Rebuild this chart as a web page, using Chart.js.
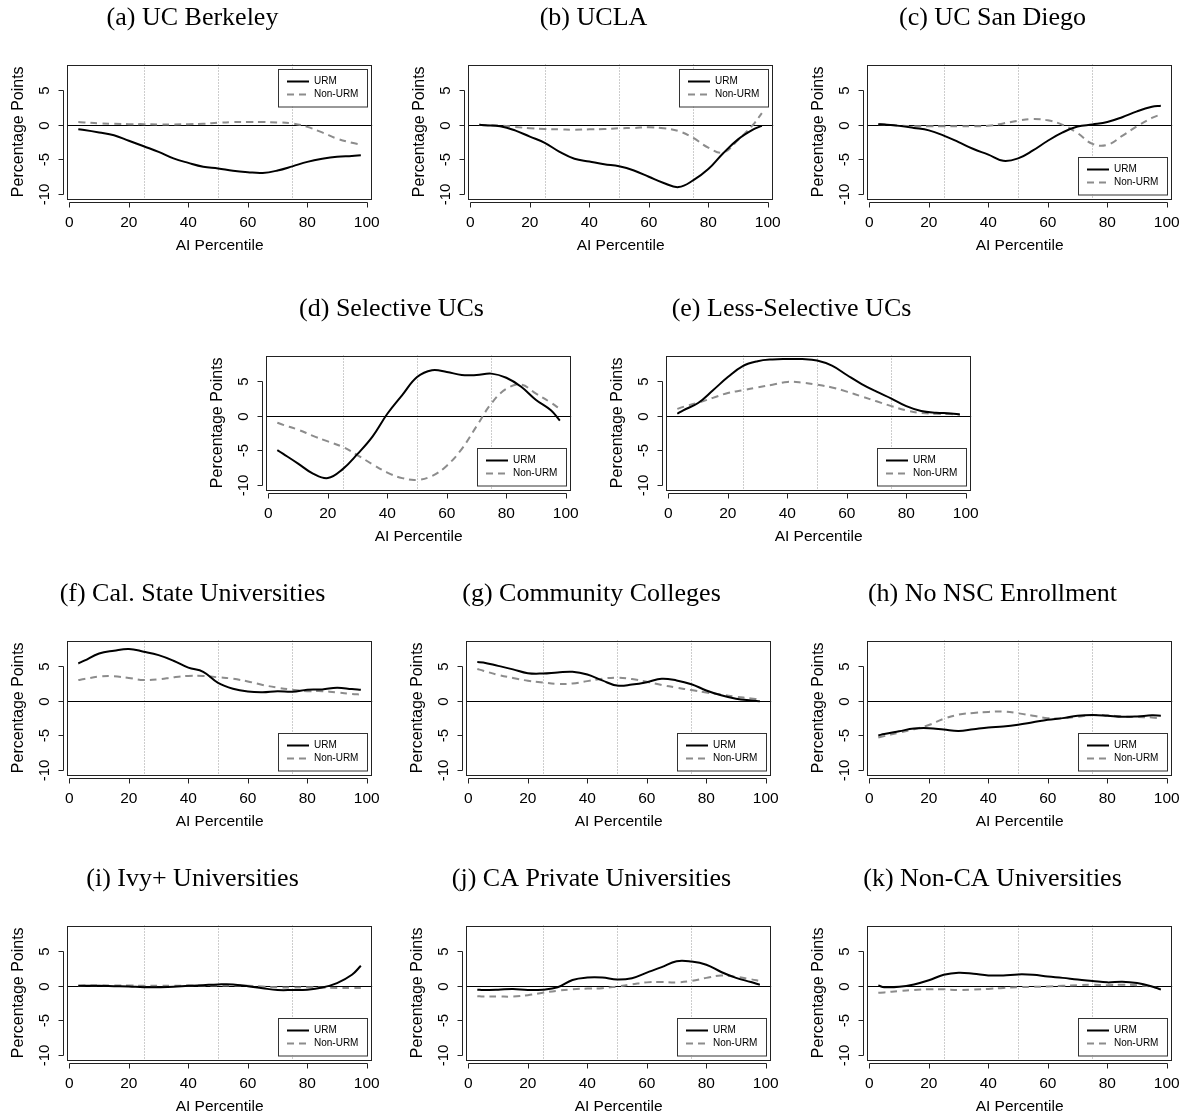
<!DOCTYPE html>
<html>
<head>
<meta charset="utf-8">
<script src="https://cdn.jsdelivr.net/npm/chart.js@4.4.1/dist/chart.umd.min.js"></script>
<style>
  html, body { margin: 0; padding: 0; background: #fff; overflow: hidden; }
  #page { position: relative; width: 1183px; height: 1118px; overflow: hidden; }
  #page canvas { position: absolute; }
</style>
</head>
<body>
<div id="page"></div>
<script>
// ── Shared axis values ──
const pctGrid = [3, 5, 10, 15, 20, 25, 30, 35, 40, 45, 50, 55, 60, 65, 70, 75, 80, 85, 90, 95, 98];
const xTickVals = [0, 20, 40, 60, 80, 100];
const yTickVals = [-10, -5, 0, 5];
const quartileLines = [25, 50, 75];
const seriesLabels = ['URM', 'Non-URM'];

// ── Series (percentage points, one value per pctGrid entry) ──
const berkeleyURM    = [-0.65, -0.75, -1.1, -1.5, -2.3, -3.1, -3.9, -4.85, -5.5, -6.05, -6.3, -6.65, -6.85, -6.95, -6.6, -6.0, -5.35, -4.9, -4.6, -4.5, -4.4];
const berkeleyNonURM = [0.4, 0.35, 0.2, 0.15, 0.1, 0.1, 0.05, 0.05, 0.1, 0.15, 0.3, 0.4, 0.4, 0.4, 0.35, 0.2, -0.3, -1.1, -2.0, -2.6, -2.85];
const uclaURM        = [0, -0.05, -0.2, -0.8, -1.7, -2.6, -3.9, -4.9, -5.3, -5.7, -6.0, -6.6, -7.5, -8.4, -9.0, -8.0, -6.4, -4.1, -2.1, -0.7, -0.15];
const uclaNonURM     = [0, -0.05, -0.1, -0.3, -0.5, -0.6, -0.65, -0.7, -0.65, -0.6, -0.5, -0.45, -0.35, -0.5, -0.9, -1.9, -3.3, -4.0, -2.2, 0.0, 1.7];
const sanDiegoURM    = [0.1, 0.05, -0.15, -0.45, -0.8, -1.55, -2.5, -3.5, -4.3, -5.2, -4.85, -3.7, -2.3, -1.1, -0.25, 0.05, 0.4, 1.1, 1.95, 2.6, 2.75];
const sanDiegoNonURM = [0.1, 0.05, -0.1, -0.2, -0.2, -0.2, -0.2, -0.2, -0.15, 0.2, 0.6, 0.85, 0.65, 0.0, -1.2, -2.75, -2.9, -1.6, -0.2, 1.0, 1.5];
const selectiveURM   = [-4.95, -5.5, -6.9, -8.35, -9.0, -7.7, -5.5, -3.0, 0.3, 3.0, 5.6, 6.6, 6.35, 5.9, 5.9, 6.1, 5.5, 4.2, 2.3, 0.8, -0.7];
const selectiveNonURM = [-1.0, -1.3, -2.0, -2.9, -3.7, -4.5, -5.7, -7.0, -8.2, -9.0, -9.25, -8.7, -7.2, -4.8, -1.5, 1.8, 3.9, 4.5, 3.2, 1.9, 1.0];
const lessSelURM     = [0.3, 0.8, 1.85, 3.7, 5.6, 7.2, 7.9, 8.15, 8.2, 8.2, 8.0, 7.25, 5.9, 4.6, 3.5, 2.5, 1.4, 0.7, 0.45, 0.35, 0.2];
const lessSelNonURM  = [1.0, 1.3, 1.9, 2.6, 3.3, 3.7, 4.1, 4.5, 4.9, 4.8, 4.5, 4.1, 3.5, 2.8, 2.1, 1.4, 0.8, 0.4, 0.3, 0.25, 0.2];
const calStateURM    = [5.4, 5.8, 6.85, 7.25, 7.5, 7.1, 6.6, 5.8, 4.8, 4.2, 2.6, 1.75, 1.35, 1.25, 1.4, 1.3, 1.6, 1.65, 1.9, 1.7, 1.6];
const calStateNonURM = [3.0, 3.15, 3.5, 3.55, 3.3, 3.0, 3.1, 3.4, 3.6, 3.6, 3.4, 3.2, 2.8, 2.3, 1.9, 1.6, 1.4, 1.4, 1.2, 1.0, 0.9];
const communityURM   = [5.6, 5.55, 5.05, 4.55, 4.0, 3.95, 4.1, 4.2, 3.8, 2.95, 2.2, 2.35, 2.7, 3.2, 2.95, 2.4, 1.5, 0.8, 0.3, 0.05, -0.05];
const communityNonURM = [4.6, 4.35, 3.75, 3.3, 2.9, 2.65, 2.45, 2.5, 2.85, 3.2, 3.35, 3.15, 2.75, 2.3, 1.9, 1.55, 1.2, 0.9, 0.6, 0.35, 0.2];
const noNscURM       = [-5.0, -4.8, -4.4, -4.0, -3.95, -4.15, -4.35, -4.1, -3.85, -3.7, -3.45, -3.1, -2.75, -2.5, -2.15, -2.05, -2.15, -2.3, -2.25, -2.1, -2.15];
const noNscNonURM    = [-5.3, -5.1, -4.6, -4.1, -3.5, -2.6, -2.0, -1.75, -1.6, -1.55, -1.8, -2.15, -2.5, -2.5, -2.3, -2.05, -2.1, -2.25, -2.35, -2.4, -2.6];
const ivyURM         = [0, 0, 0, -0.05, -0.1, -0.2, -0.2, -0.15, 0, 0.1, 0.2, 0.2, -0.05, -0.35, -0.6, -0.6, -0.55, -0.25, 0.4, 1.6, 2.9];
const ivyNonURM      = [0, 0.05, 0.05, 0.05, 0.05, 0, 0, 0, 0.05, 0.05, 0.05, 0.05, 0, -0.1, -0.2, -0.25, -0.2, -0.25, -0.3, -0.3, -0.3];
const caPrivateURM   = [-0.55, -0.6, -0.55, -0.45, -0.6, -0.55, -0.2, 0.85, 1.2, 1.2, 0.9, 1.1, 1.9, 2.7, 3.55, 3.5, 3.05, 2.0, 1.15, 0.55, 0.15];
const caPrivateNonURM = [-1.5, -1.55, -1.55, -1.55, -1.35, -1.0, -0.7, -0.5, -0.4, -0.35, -0.1, 0.2, 0.5, 0.55, 0.5, 0.7, 1.15, 1.5, 1.3, 0.95, 0.7];
const nonCaURM       = [0.05, -0.2, -0.15, 0.2, 0.8, 1.6, 1.9, 1.75, 1.5, 1.5, 1.65, 1.6, 1.35, 1.15, 0.9, 0.7, 0.5, 0.6, 0.4, -0.1, -0.55];
const nonCaNonURM    = [-1.0, -0.95, -0.75, -0.6, -0.5, -0.5, -0.6, -0.55, -0.45, -0.3, -0.2, -0.15, -0.1, 0.0, 0.1, 0.15, 0.1, 0.15, 0.1, -0.15, -0.45];

// ── Panel layout (canvas origin on the page, legend corner) ──
const panels = [
    { title: '(a) UC Berkeley',          urm: berkeleyURM,  non: berkeleyNonURM,  left: 0,   top: 0,   legend: 'top' },
    { title: '(b) UCLA',                 urm: uclaURM,      non: uclaNonURM,      left: 401, top: 0,   legend: 'top' },
    { title: '(c) UC San Diego',         urm: sanDiegoURM,  non: sanDiegoNonURM,  left: 800, top: 0,   legend: 'bottom' },
    { title: '(d) Selective UCs',        urm: selectiveURM, non: selectiveNonURM, left: 199, top: 291, legend: 'bottom' },
    { title: '(e) Less-Selective UCs',   urm: lessSelURM,   non: lessSelNonURM,   left: 599, top: 291, legend: 'bottom' },
    { title: '(f) Cal. State Universities', urm: calStateURM, non: calStateNonURM, left: 0,  top: 576, legend: 'bottom' },
    { title: '(g) Community Colleges',   urm: communityURM, non: communityNonURM, left: 399, top: 576, legend: 'bottom' },
    { title: '(h) No NSC Enrollment',    urm: noNscURM,     non: noNscNonURM,     left: 800, top: 576, legend: 'bottom' },
    { title: '(i) Ivy+ Universities',    urm: ivyURM,       non: ivyNonURM,       left: 0,   top: 861, legend: 'bottom' },
    { title: '(j) CA Private Universities', urm: caPrivateURM, non: caPrivateNonURM, left: 399, top: 861, legend: 'bottom' },
    { title: '(k) Non-CA Universities',  urm: nonCaURM,     non: nonCaNonURM,     left: 800, top: 861, legend: 'bottom' }
];

const X_MIN = -0.8, X_MAX = 101.8;
const Y_MIN = -10.72, Y_MAX = 8.72;
const SANS = "'Liberation Sans', Arial, sans-serif";
const SERIF = "'Liberation Serif', 'Times New Roman', serif";
const CANVAS_W = 394, CANVAS_H = 257;

// ── R-style frame: dotted quartile guides, zero line, box, offset axes, legend ──
const rFrame = {
    id: 'rFrame',
    beforeDatasetsDraw(chart) {
        const { ctx, chartArea: a, scales: { x, y } } = chart;
        ctx.save();
        ctx.lineWidth = 1;
        ctx.strokeStyle = '#9a9a9a';
        ctx.setLineDash([1, 2]);
        quartileLines.forEach(v => {
            const px = Math.round(x.getPixelForValue(v)) + 0.5;
            ctx.beginPath(); ctx.moveTo(px, a.top); ctx.lineTo(px, a.bottom); ctx.stroke();
        });
        ctx.setLineDash([]);
        ctx.strokeStyle = '#000';
        const p0 = Math.round(y.getPixelForValue(0)) + 0.5;
        ctx.beginPath(); ctx.moveTo(a.left, p0); ctx.lineTo(a.right, p0); ctx.stroke();
        ctx.restore();
    },
    afterDatasetsDraw(chart, args, opts) {
        const { ctx, chartArea: a, scales: { x, y } } = chart;
        ctx.save();
        ctx.lineWidth = 1;
        ctx.strokeStyle = '#222';
        ctx.strokeRect(Math.round(a.left) + 0.5, Math.round(a.top) + 0.5,
                       Math.round(a.right - a.left) - 1, Math.round(a.bottom - a.top) - 1);

        // x axis below the box
        const ax = Math.round(a.bottom) + 3.5;
        const xs = x.ticks.map(t => Math.round(x.getPixelForValue(t.value)) + 0.5);
        ctx.beginPath();
        ctx.moveTo(xs[0], ax); ctx.lineTo(xs[xs.length - 1], ax);
        xs.forEach(px => { ctx.moveTo(px, ax); ctx.lineTo(px, ax + 5); });
        ctx.stroke();

        // y axis left of the box, labels rotated like R
        const ay = Math.round(a.left) - 3.5;
        const ys = y.ticks.map(t => Math.round(y.getPixelForValue(t.value)) + 0.5);
        ctx.beginPath();
        ctx.moveTo(ay, ys[0]); ctx.lineTo(ay, ys[ys.length - 1]);
        ys.forEach(py => { ctx.moveTo(ay, py); ctx.lineTo(ay - 5, py); });
        ctx.stroke();
        ctx.fillStyle = '#000';
        ctx.font = `15px ${SANS}`;
        ctx.textAlign = 'center';
        ctx.textBaseline = 'middle';
        y.ticks.forEach((t, i) => {
            ctx.save();
            ctx.translate(a.left - 22, ys[i]);
            ctx.rotate(-Math.PI / 2);
            ctx.fillText(String(t.value), 0, 0);
            ctx.restore();
        });

        // legend box inside the plot
        const lw = 89, lh = 37.5;
        const lx = Math.round(a.right - 5.5 - lw);
        const ly = Math.round(opts.corner === 'top' ? a.top + 4.5 : a.bottom - 4.5 - lh);
        ctx.fillStyle = '#fff';
        ctx.fillRect(lx, ly, lw, lh);
        ctx.strokeStyle = '#333';
        ctx.strokeRect(lx + 0.5, ly + 0.5, lw, lh);
        ctx.font = `10px ${SANS}`;
        ctx.textAlign = 'left';
        chart.data.datasets.forEach((ds, i) => {
            const yy = ly + 12.5 + i * 13;
            ctx.strokeStyle = ds.borderColor;
            ctx.lineWidth = ds.borderWidth;
            ctx.setLineDash(ds.borderDash || []);
            ctx.beginPath(); ctx.moveTo(lx + 9, yy); ctx.lineTo(lx + 31, yy); ctx.stroke();
            ctx.setLineDash([]);
            ctx.fillStyle = '#000';
            ctx.fillText(ds.label, lx + 36, yy);
        });
        ctx.restore();
    }
};

const page = document.getElementById('page');

panels.forEach(p => {
    const canvas = document.createElement('canvas');
    canvas.width = CANVAS_W;
    canvas.height = CANVAS_H;
    canvas.style.left = p.left + 'px';
    canvas.style.top = p.top + 'px';
    canvas.style.width = CANVAS_W + 'px';
    canvas.style.height = CANVAS_H + 'px';
    page.appendChild(canvas);

    const toPoints = vals => pctGrid.map((x, i) => ({ x, y: vals[i] }));

    new Chart(canvas, {
        type: 'line',
        data: {
            datasets: [
                {
                    label: seriesLabels[0],
                    data: toPoints(p.urm),
                    borderColor: '#000',
                    borderWidth: 2,
                    pointRadius: 0,
                    tension: 0.4,
                    fill: false
                },
                {
                    label: seriesLabels[1],
                    data: toPoints(p.non),
                    borderColor: '#8c8c8c',
                    borderWidth: 2,
                    borderDash: [7, 5],
                    pointRadius: 0,
                    tension: 0.4,
                    fill: false
                }
            ]
        },
        options: {
            responsive: false,
            animation: false,
            devicePixelRatio: 1,
            layout: { padding: { top: 0, right: 16, bottom: 0, left: 7 } },
            plugins: {
                legend: { display: false },
                tooltip: { enabled: false },
                title: {
                    display: true,
                    text: p.title,
                    color: '#000',
                    font: { family: SERIF, size: 26, weight: 'normal', lineHeight: 1.2 },
                    padding: { top: 3, bottom: 30.3 }
                },
                rFrame: { corner: p.legend }
            },
            scales: {
                x: {
                    type: 'linear',
                    min: X_MIN,
                    max: X_MAX,
                    afterBuildTicks: s => { s.ticks = xTickVals.map(v => ({ value: v })); },
                    afterFit: s => { s.height = 58; },
                    grid: { display: false, drawTicks: false },
                    border: { display: false },
                    ticks: {
                        autoSkip: false,
                        maxRotation: 0,
                        padding: 14,
                        color: '#000',
                        font: { family: SANS, size: 15.5 }
                    },
                    title: {
                        display: true,
                        text: 'AI Percentile',
                        color: '#000',
                        font: { family: SANS, size: 15.5 },
                        padding: { top: 0, bottom: 2 }
                    }
                },
                y: {
                    type: 'linear',
                    min: Y_MIN,
                    max: Y_MAX,
                    afterBuildTicks: s => { s.ticks = yTickVals.map(v => ({ value: v })); },
                    afterFit: s => { s.width = 60; },
                    grid: { display: false, drawTicks: false },
                    border: { display: false },
                    ticks: { display: false },
                    title: {
                        display: true,
                        text: 'Percentage Points',
                        color: '#000',
                        font: { family: SANS, size: 16 },
                        padding: { top: 1.7, bottom: 0 }
                    }
                }
            }
        },
        plugins: [rFrame]
    });
});
</script>
</body>
</html>
